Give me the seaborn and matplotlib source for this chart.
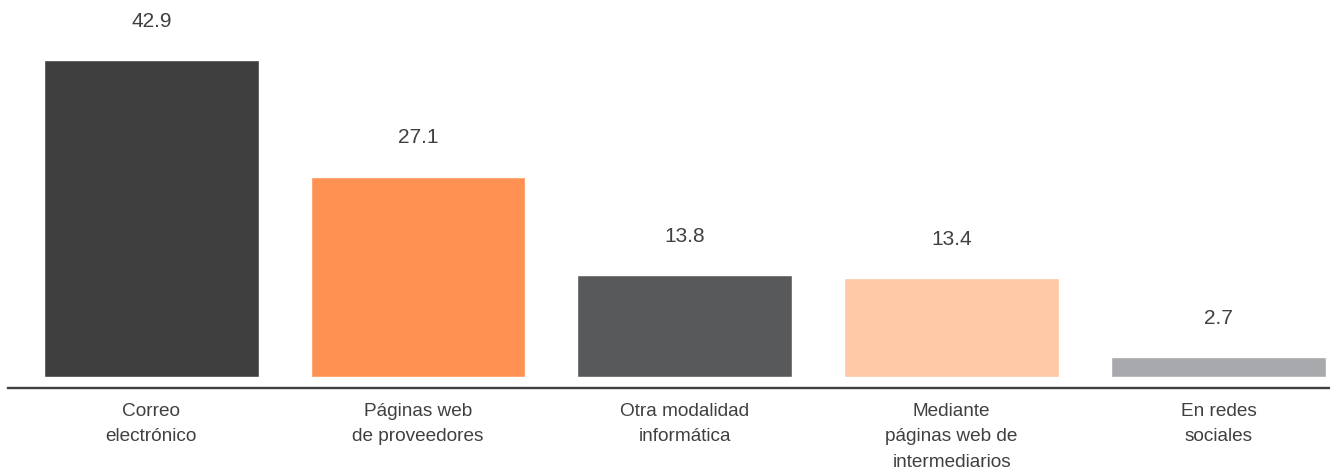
import matplotlib
matplotlib.use("Agg")
import matplotlib.pyplot as plt
import seaborn as sns
import pandas as pd

# Data
categories = ["Correo\nelectrónico", "Páginas web\nde proveedores", "Otra modalidad\ninformática",
              "Mediante\npáginas web de\nintermediarios", "En redes\nsociales"]
values = [42.9, 27.1, 13.8, 13.4, 2.7]
colors = ["#3f3f3f", "#ff9152", "#58595b", "#ffc8a6", "#a7a9ac"]

df = pd.DataFrame({"Categoria": categories, "Valor": values})

sns.set_style("white")
plt.rcParams["font.family"] = ["Liberation Sans", "DejaVu Sans"]

fig = plt.figure(figsize=(13.3, 4.71), dpi=100)
ax = fig.add_axes([0.006, 0.176, 0.994, 0.824])

sns.barplot(data=df, x="Categoria", y="Valor", hue="Categoria", palette=colors,
            legend=False, width=0.805, saturation=1, ax=ax)

# value labels above bars
for i, v in enumerate(values):
    ax.annotate(f"{v:.1f}", (i, v), xytext=(0, 28), textcoords="offset points",
                ha="center", va="center", fontsize=15, color="#404040")

ax.set_xlim(-0.537, 4.418)
ax.set_ylim(-1.49, 51.0)
ax.set_xlabel("")
ax.set_ylabel("")
ax.set_yticks([])
for s in ["top", "left", "right"]:
    ax.spines[s].set_visible(False)
ax.spines["bottom"].set_color("#404040")
ax.spines["bottom"].set_linewidth(1.7)
ax.tick_params(axis="x", length=0, pad=11, labelsize=13.7, labelcolor="#404040")
for lbl in ax.get_xticklabels():
    lbl.set_linespacing(1.62)

plt.savefig("out.png", dpi=100)
